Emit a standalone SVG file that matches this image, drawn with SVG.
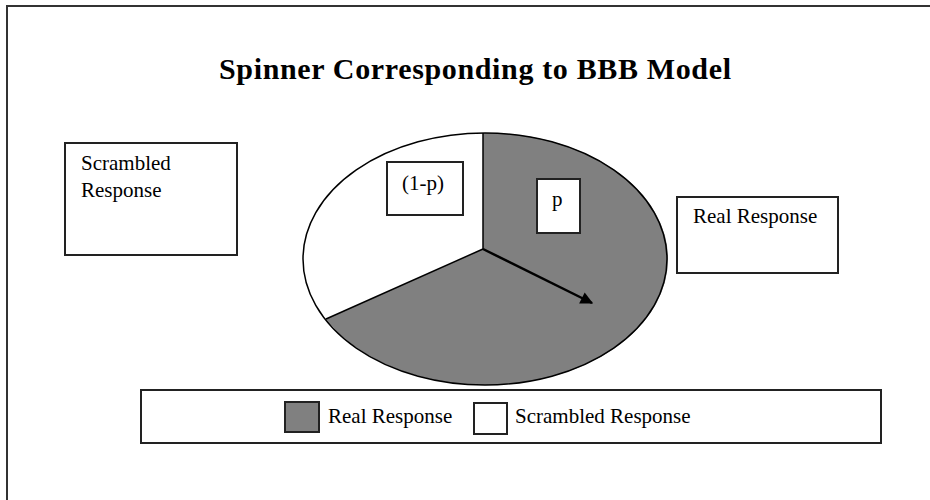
<svg xmlns="http://www.w3.org/2000/svg" width="930" height="500" viewBox="0 0 930 500">
<defs>
<style>
.box{fill:#fff;stroke:#222;stroke-width:2}
.t{font-family:"Liberation Serif","Times New Roman",serif;font-size:21px;fill:#000}
.title{font-family:"Liberation Serif","Times New Roman",serif;font-size:30px;font-weight:bold;fill:#000}
</style>
<marker id="ah" viewBox="0 0 10 10" refX="9" refY="5" markerWidth="6" markerHeight="5" orient="auto" markerUnits="strokeWidth">
<path d="M0,0 L10,5 L0,10 Z" fill="#000"/>
</marker>
</defs>
<rect x="7" y="6" width="950" height="520" fill="#fff" stroke="#333" stroke-width="2"/>
<text class="title" x="219" y="79" textLength="512" lengthAdjust="spacing">Spinner Corresponding to BBB Model</text>
<g id="pie">
<path d="M483,249 L483,133 A182,126 0 1,1 326,319 Z" fill="#808080"/>
<path d="M483,249 L326,319 A182,126 0 0,1 483,133 Z" fill="#fff"/>
<ellipse cx="485" cy="259" rx="182" ry="126" fill="none" stroke="#000" stroke-width="1.5"/>
<line x1="483" y1="249" x2="483" y2="133" stroke="#000" stroke-width="1.5"/>
<line x1="483" y1="249" x2="326" y2="319" stroke="#000" stroke-width="1.5"/>
</g>
<g id="connectors">
<line x1="483" y1="249" x2="592" y2="303" stroke="#000" stroke-width="2.5" marker-end="url(#ah)"/>
</g>
<g id="label-1-p">
<rect class="box" x="387" y="162" width="76" height="53"/>
<text class="t" x="402" y="190">(1-p)</text>
</g>
<g id="label-p">
<rect class="box" x="537" y="179" width="43" height="54"/>
<text class="t" x="552" y="206">p</text>
</g>
<g id="scrambled-response">
<rect class="box" x="65" y="143" width="172" height="112"/>
<text class="t" x="81" y="170">Scrambled</text>
<text class="t" x="81" y="197">Response</text>
</g>
<g id="real-response">
<rect class="box" x="677" y="197" width="161" height="76"/>
<text class="t" x="693" y="223">Real Response</text>
</g>
<g id="legend">
<rect class="box" x="141" y="390" width="740" height="53"/>
<rect x="285" y="402" width="34" height="30" fill="#808080" stroke="#222" stroke-width="2"/>
<text class="t" x="328" y="423">Real Response</text>
<rect x="474" y="403" width="33" height="31" fill="#fff" stroke="#222" stroke-width="2"/>
<text class="t" x="515" y="423">Scrambled Response</text>
</g>
</svg>
